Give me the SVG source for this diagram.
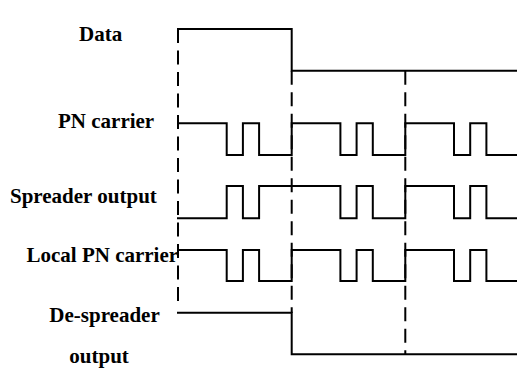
<svg xmlns="http://www.w3.org/2000/svg" width="517" height="372" viewBox="0 0 517 372">
<style>
.w{fill:none;stroke:#000;stroke-width:2;stroke-linejoin:miter;stroke-linecap:square}
.d{fill:none;stroke:#000;stroke-width:2;stroke-dasharray:14 7.5}
.t{font-family:"Liberation Serif","Times New Roman",serif;font-weight:bold;font-size:21px;fill:#000}
</style>
<rect width="517" height="372" fill="#fff"/>
<g id="connectors">
<path class="d" d="M178,29 V307"/>
<path class="d" d="M291.7,70.7 V313"/>
<path class="d" d="M405.3,70.7 V354"/>
</g>
<g id="data">
<text class="t" x="79" y="40.5">Data</text>
<path class="w" d="M178,29 H291.7 V70.7 H517"/>
</g>
<g id="pn-carrier">
<text class="t" x="58" y="128.3">PN carrier</text>
<path class="w" d="M178,123.3 H226.7 V155 H242.9 V123.3 H259.1 V155 H291.7 V123.3 H340.4 V155 H356.6 V123.3 H372.8 V155 H405.3 V123.3 H454 V155 H470.2 V123.3 H486.4 V155 H517"/>
</g>
<g id="spreader-output">
<text class="t" x="10" y="203.3">Spreader output</text>
<path class="w" d="M178,218.3 H226.7 V186 H242.9 V218.3 H259.1 V186 H340.4 V218.3 H356.6 V186 H372.8 V218.3 H405.3 V186 H454 V218.3 H470.2 V186 H486.4 V218.3 H517"/>
</g>
<g id="local-pn-carrier">
<text class="t" x="26.5" y="261.7">Local PN carrier</text>
<path class="w" d="M178,250 H226.7 V281 H242.9 V250 H259.1 V281 H291.7 V250 H340.4 V281 H356.6 V250 H372.8 V281 H405.3 V250 H454 V281 H470.2 V250 H486.4 V281 H517"/>
</g>
<g id="de-spreader-output">
<text class="t" x="49.3" y="321.7">De-spreader</text>
<text class="t" x="69.3" y="363">output</text>
<path class="w" d="M178,312.7 H291.7 V354.3 H517"/>
</g>
</svg>
